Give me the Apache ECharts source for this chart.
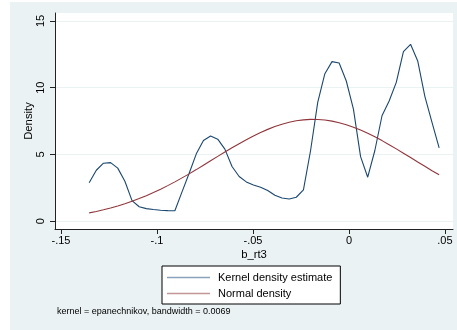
<!DOCTYPE html>
<html>
<head>
<meta charset="utf-8">
<script src="https://cdn.jsdelivr.net/npm/echarts@6/dist/echarts.min.js"></script>
<style>
  html, body { margin: 0; padding: 0; background: #ffffff; }
  #chart { width: 457px; height: 330px; }
</style>
</head>
<body>
<div id="chart"></div>
<script>
// Evaluation points of the density estimate (b_rt3)
var xStart = -0.1353;
var xStep = 0.00372;
// Kernel density estimate at each evaluation point
var kernelDensity = [
  2.89, 3.82, 4.35, 4.39, 3.98, 3.00, 1.55, 1.09, 0.95, 0.88,
  0.83, 0.80, 0.79, 2.20, 3.60, 5.05, 6.05, 6.38, 6.15, 5.40,
  4.10, 3.35, 2.95, 2.72, 2.55, 2.30, 1.95, 1.75, 1.67, 1.80,
  2.35, 5.30, 8.90, 11.05, 11.95, 11.85, 10.50, 8.40, 4.84, 3.30,
  5.30, 7.90, 9.00, 10.40, 12.70, 13.25, 12.00, 9.35, 7.40, 5.50
];
// Normal density at the same points
var normalDensity = [
  0.63, 0.74, 0.86, 1.00, 1.15, 1.31, 1.50, 1.70, 1.92, 2.15,
  2.40, 2.67, 2.95, 3.25, 3.55, 3.87, 4.20, 4.53, 4.86, 5.18,
  5.50, 5.81, 6.11, 6.39, 6.65, 6.88, 7.09, 7.27, 7.41, 7.52,
  7.59, 7.63, 7.62, 7.58, 7.50, 7.38, 7.23, 7.04, 6.83, 6.59,
  6.32, 6.04, 5.73, 5.42, 5.10, 4.77, 4.44, 4.12, 3.79, 3.48
];
var xTickValues = [-0.15, -0.1, -0.05, 0, 0.05];
var xTickLabels = ['-.15', '-.1', '-.05', '0', '.05'];
var yTickValues = [0, 5, 10, 15];
var yTickLabels = ['0', '5', '10', '15'];
var seriesNames = ['Kernel density estimate', 'Normal density'];
var noteText = 'kernel = epanechnikov, bandwidth = 0.0069';

function pairs(values) {
  return values.map(function (v, i) { return [xStart + i * xStep, v]; });
}
function lookup(values, labels) {
  return function (v) {
    for (var i = 0; i < values.length; i++) {
      if (Math.abs(values[i] - v) < 1e-9) return labels[i];
    }
    return '';
  };
}

var FONT = 'Liberation Sans, Arial, sans-serif';
var BG = '#eaf2f3';
var chart = echarts.init(document.getElementById('chart'), null, { renderer: 'canvas' });
chart.setOption({
  animation: false,
  backgroundColor: '#ffffff',
  textStyle: { fontFamily: FONT },
  graphic: [
    { type: 'rect', z: -10, shape: { x: 10, y: 2, width: 447, height: 328 }, style: { fill: BG } },
    { type: 'text', left: 57, top: 307, style: { text: noteText, fontSize: 9, fontFamily: FONT, fill: '#000' } }
  ],
  grid: {
    left: 55, right: 4, top: 13, bottom: 101,
    show: true, backgroundColor: '#ffffff', borderWidth: 0
  },
  legend: {
    orient: 'vertical',
    left: 162, top: 266,
    backgroundColor: '#ffffff',
    borderColor: '#000000', borderWidth: 1, borderRadius: 0,
    padding: [5, 8, 4, 5],
    itemGap: 3,
    itemWidth: 43, itemHeight: 1.6,
    icon: 'rect',
    textStyle: { fontSize: 11, color: '#000', fontFamily: FONT, padding: [0, 0, 0, 3], lineHeight: 13 },
    data: [
      { name: seriesNames[0], itemStyle: { color: '#8aa3bd' } },
      { name: seriesNames[1], itemStyle: { color: '#c39599' } }
    ]
  },
  xAxis: {
    type: 'value',
    min: -0.1531, max: 0.0542,
    name: 'b_rt3', nameLocation: 'middle', nameGap: 20, nameMoveOverlap: false,
    nameTextStyle: { fontSize: 11.3, color: '#000', fontFamily: FONT },
    axisLine: { onZero: false, lineStyle: { color: '#222', width: 1 } },
    axisTick: { show: true, length: 5, customValues: xTickValues, lineStyle: { color: '#222' } },
    axisLabel: { customValues: xTickValues, formatter: lookup(xTickValues, xTickLabels), fontSize: 11, color: '#000', margin: 6, fontFamily: FONT },
    splitLine: { show: false }
  },
  yAxis: {
    type: 'value',
    min: -0.576, max: 15.59,
    name: 'Density', nameLocation: 'middle', nameGap: 21, nameRotate: 90, nameMoveOverlap: false,
    nameTextStyle: { fontSize: 11.3, color: '#000', fontFamily: FONT },
    axisLine: { show: true, onZero: false, lineStyle: { color: '#222', width: 1 } },
    axisTick: { show: true, length: 5, customValues: yTickValues, lineStyle: { color: '#222' } },
    axisLabel: { customValues: yTickValues, formatter: lookup(yTickValues, yTickLabels), rotate: 90, fontSize: 11, color: '#000', margin: 9, fontFamily: FONT },
    splitLine: { show: true, lineStyle: { color: BG, width: 1 } }
  },
  series: [
    {
      name: seriesNames[0], type: 'line', data: pairs(kernelDensity),
      showSymbol: false, symbol: 'none', smooth: false,
      lineStyle: { color: '#1a476f', width: 1.1 }, itemStyle: { color: '#1a476f' }
    },
    {
      name: seriesNames[1], type: 'line', data: pairs(normalDensity),
      showSymbol: false, symbol: 'none', smooth: false,
      lineStyle: { color: '#90353b', width: 1.1 }, itemStyle: { color: '#90353b' }
    }
  ]
});
</script>
</body>
</html>
